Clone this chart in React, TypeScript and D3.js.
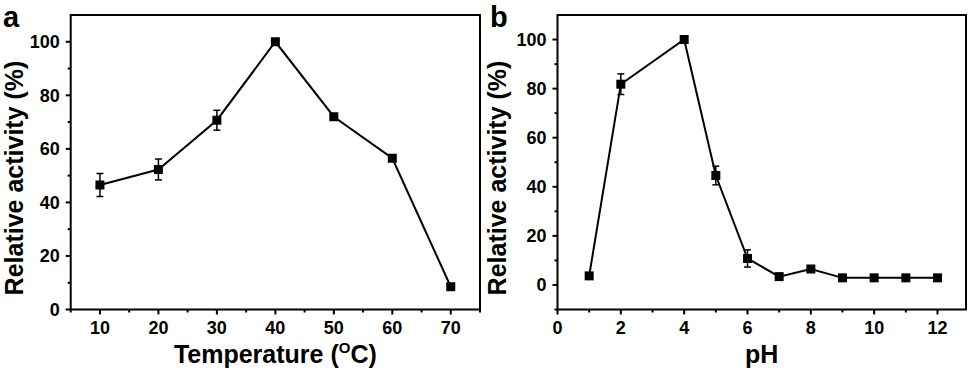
import React from "react";
import * as d3 from "d3";

const tempX = [10, 20, 30, 40, 50, 60, 70];
const tempY = [46.5, 52.3, 70.7, 100, 72, 56.5, 8.5];
const tempErr = [4.3, 3.9, 3.7, 0.5, 1, 0.8, 0.5];

const phX = [1, 2, 4, 5, 6, 7, 8, 9, 10, 11, 12];
const phY = [3.7, 81.8, 100, 44.6, 10.8, 3.4, 6.5, 2.9, 2.9, 2.9, 2.9];
const phErr = [0.5, 4.2, 0.5, 3.8, 3.5, 0.5, 0.5, 0.3, 0.3, 0.3, 0.3];

const tempTicks = [10, 20, 30, 40, 50, 60, 70];
const tempMinor = [5, 15, 25, 35, 45, 55, 65, 75];
const phTicks = [0, 2, 4, 6, 8, 10, 12];
const phMinor = [1, 3, 5, 7, 9, 11];
const yTicks = [0, 20, 40, 60, 80, 100];
const yMinorA = [10, 30, 50, 70, 90];
const yMinorB = [-10, 10, 30, 50, 70, 90];

const FONT = "'Liberation Sans', Arial, sans-serif";

type PanelProps = {
  left: number;
  right: number;
  xDomain: [number, number];
  yDomain: [number, number];
  xs: number[];
  ys: number[];
  errs: number[];
  xTicks: number[];
  xMinor: number[];
  yMinor: number[];
  label: string;
  labelX: number;
  yLabelX: number;
  xTitle: React.ReactNode;
};

const TOP = 15;
const BOTTOM = 309.5;

function Panel(p: PanelProps) {
  const x = d3.scaleLinear().domain(p.xDomain).range([p.left, p.right]);
  const y = d3.scaleLinear().domain(p.yDomain).range([BOTTOM, TOP]);
  const line = d3
    .line<number>()
    .x((_, i) => x(p.xs[i]))
    .y((d) => y(d));
  const cx = (p.left + p.right) / 2;
  return (
    <g>
      <text x={p.labelX} y={27} fontSize={29} fontWeight="bold" fontFamily={FONT}>
        {p.label}
      </text>
      <path d={line(p.ys) || ""} fill="none" stroke="#000" strokeWidth={2} />
      {p.ys.map((v, i) =>
        p.errs[i] > 1.5 ? (
          <g key={"e" + i} stroke="#000" strokeWidth={1.5}>
            <line x1={x(p.xs[i])} x2={x(p.xs[i])} y1={y(v + p.errs[i])} y2={y(v - p.errs[i])} />
            <line x1={x(p.xs[i]) - 3.5} x2={x(p.xs[i]) + 3.5} y1={y(v + p.errs[i])} y2={y(v + p.errs[i])} />
            <line x1={x(p.xs[i]) - 3.5} x2={x(p.xs[i]) + 3.5} y1={y(v - p.errs[i])} y2={y(v - p.errs[i])} />
          </g>
        ) : null
      )}
      {p.ys.map((v, i) => (
        <rect key={"m" + i} x={x(p.xs[i]) - 4.5} y={y(v) - 4.5} width={9} height={9} fill="#000" />
      ))}
      <rect
        x={p.left}
        y={TOP}
        width={p.right - p.left}
        height={BOTTOM - TOP}
        fill="none"
        stroke="#000"
        strokeWidth={2}
      />
      {p.xTicks.map((t) => (
        <g key={"xt" + t}>
          <line x1={x(t)} x2={x(t)} y1={BOTTOM} y2={BOTTOM + 5} stroke="#000" strokeWidth={2} />
          <text x={x(t)} y={334} textAnchor="middle" fontSize={18} fontWeight="bold" fontFamily={FONT}>
            {t}
          </text>
        </g>
      ))}
      {p.xMinor.map((t) => (
        <line key={"xm" + t} x1={x(t)} x2={x(t)} y1={BOTTOM} y2={BOTTOM + 3} stroke="#000" strokeWidth={2} />
      ))}
      {yTicks.map((t) => (
        <g key={"yt" + t}>
          <line x1={p.left - 5} x2={p.left} y1={y(t)} y2={y(t)} stroke="#000" strokeWidth={2} />
          <text
            x={p.left - 11}
            y={y(t)}
            dy="0.36em"
            textAnchor="end"
            fontSize={18}
            fontWeight="bold"
            fontFamily={FONT}
          >
            {t}
          </text>
        </g>
      ))}
      {p.yMinor.map((t) => (
        <line key={"ym" + t} x1={p.left - 3} x2={p.left} y1={y(t)} y2={y(t)} stroke="#000" strokeWidth={2} />
      ))}
      <text
        transform={`translate(${p.yLabelX},178) rotate(-90)`}
        textAnchor="middle"
        fontSize={25}
        fontWeight="bold"
        fontFamily={FONT}
      >
        Relative activity (%)
      </text>
      <text x={cx} y={363} textAnchor="middle" fontSize={25} fontWeight="bold" fontFamily={FONT}>
        {p.xTitle}
      </text>
    </g>
  );
}

export default function App() {
  return (
    <svg
      width={969}
      height={372}
      style={{ position: "absolute", left: 0, top: 0, background: "#fff" }}
    >
      <rect width={969} height={372} fill="#fff" />
      <Panel
        left={70.7}
        right={480}
        xDomain={[5, 75]}
        yDomain={[0, 110]}
        xs={tempX}
        ys={tempY}
        errs={tempErr}
        xTicks={tempTicks}
        xMinor={tempMinor}
        yMinor={yMinorA}
        label="a"
        labelX={3}
        yLabelX={23}
        xTitle={
          <>
            Temperature (
            <tspan fontSize={15} dy={-10}>
              O
            </tspan>
            <tspan dy={10}>C)</tspan>
          </>
        }
      />
      <Panel
        left={557.5}
        right={966}
        xDomain={[0, 12.9]}
        yDomain={[-10, 110]}
        xs={phX}
        ys={phY}
        errs={phErr}
        xTicks={phTicks}
        xMinor={phMinor}
        yMinor={yMinorB}
        label="b"
        labelX={490}
        yLabelX={506}
        xTitle="pH"
      />
    </svg>
  );
}
